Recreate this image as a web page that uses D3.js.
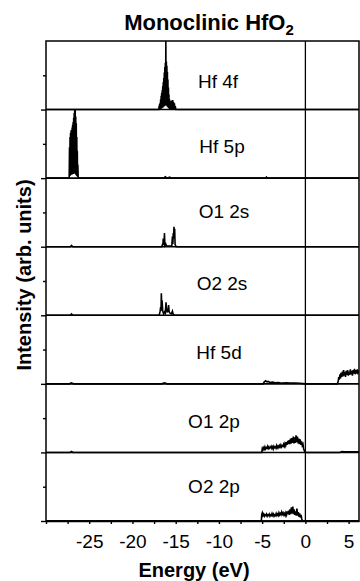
<!DOCTYPE html>
<html><head><meta charset="utf-8">
<script src="https://cdn.jsdelivr.net/npm/d3@7/dist/d3.min.js"></script>
<style>body{margin:0;background:#fff}svg{display:block;font-family:"Liberation Sans",Arial,Helvetica,sans-serif}</style>
</head><body><svg id="chart" width="360" height="581"></svg>
<script>
// ---- data ----
const panelLabels = ["Hf 4f", "Hf 5p", "O1 2s", "O2 2s", "Hf 5d", "O1 2p", "O2 2p"];
const xTicks = [-30, -27.5, -25, -22.5, -20, -17.5, -15, -12.5, -10, -7.5, -5, -2.5, 0, 2.5, 5];
const xTickLabels = [-25, -20, -15, -10, -5, 0, 5];
const xDomain = [-30, 6.2];

const hf4f = [[-30,0],[-16.95,0],[-16.92,0.05],[-16.89,0],[-16.86,0.08],[-16.83,0],[-16.8,0.1],[-16.77,0.01],[-16.74,0.15],[-16.71,0.01],[-16.68,0.2],[-16.65,0.02],[-16.62,0.24],[-16.59,0.02],[-16.56,0.28],[-16.53,0.03],[-16.5,0.34],[-16.47,0.03],[-16.44,0.4],[-16.41,0.04],[-16.38,0.46],[-16.35,0.05],[-16.32,0.54],[-16.29,0.05],[-16.26,0.62],[-16.23,0.06],[-16.2,0.68],[-16.17,0.08],[-16.14,1.0],[-16.11,0.08],[-16.08,0.7],[-16.05,0.06],[-16.02,0.64],[-15.99,0.05],[-15.96,0.55],[-15.93,0.04],[-15.9,0.44],[-15.87,0.03],[-15.84,0.32],[-15.81,0.02],[-15.78,0.22],[-15.75,0.02],[-15.72,0.15],[-15.69,0.01],[-15.66,0.12],[-15.62,0.01],[-15.58,0.1],[-15.54,0.01],[-15.5,0.13],[-15.46,0.01],[-15.42,0.1],[-15.38,0.01],[-15.34,0.14],[-15.3,0.01],[-15.25,0.11],[-15.2,0.01],[-15.15,0.09],[-15.1,0.01],[-15.05,0.05],[-14.98,0],[6.2,0]];
const hf5p = [[-30,0],[-27.32,0],[-27.28,0.45],[-27.25,0.03],[-27.22,0.6],[-27.19,0.04],[-27.16,0.66],[-27.13,0.05],[-27.1,0.7],[-27.07,0.05],[-27.04,0.68],[-27.01,0.05],[-26.98,0.74],[-26.95,0.06],[-26.92,0.78],[-26.89,0.06],[-26.86,0.82],[-26.83,0.06],[-26.8,0.88],[-26.77,0.07],[-26.74,0.95],[-26.71,0.07],[-26.68,1.0],[-26.65,0.07],[-26.62,1.0],[-26.59,0.06],[-26.56,0.9],[-26.53,0.05],[-26.5,0.8],[-26.47,0.04],[-26.44,0.6],[-26.41,0.03],[-26.38,0.4],[-26.35,0.02],[-26.32,0.2],[-26.28,0.02],[-26.22,0],[-16.4,0],[-16.2,0.02],[-16.0,0],[-15.7,0.015],[-15.5,0],[-4.6,0],[-4.5,0.015],[-4.4,0],[6.2,0]];
const o1_2s = [[-30,0],[-27.2,0],[-27.05,0.02],[-26.9,0],[-16.6,0],[-16.52,0.04],[-16.48,0.02],[-16.44,0.12],[-16.4,0.03],[-16.34,0.06],[-16.3,0.2],[-16.25,0.02],[-16.15,0.04],[-16.05,0.01],[-15.45,0.01],[-15.38,0.15],[-15.33,0.04],[-15.28,0.2],[-15.24,0.12],[-15.2,0.29],[-15.16,0.18],[-15.12,0.26],[-15.07,0.03],[-14.95,0],[6.2,0]];
const o2_2s = [[-30,0],[-27.2,0],[-27.05,0.02],[-26.9,0],[-16.9,0],[-16.8,0.06],[-16.74,0.12],[-16.7,0.06],[-16.66,0.32],[-16.62,0.15],[-16.58,0.22],[-16.5,0.06],[-16.4,0.02],[-16.3,0.05],[-16.2,0.03],[-16.12,0.19],[-16.06,0.08],[-15.98,0.05],[-15.9,0.06],[-15.82,0.15],[-15.76,0.05],[-15.65,0.03],[-15.5,0.02],[-15.38,0.06],[-15.28,0.01],[-15.1,0],[6.2,0]];
const hf5d = [[-30,0],[-27.3,0],[-27.1,0.015],[-26.8,0],[-16.6,0],[-16.3,0.015],[-16.0,0],[-4.9,0],[-4.75,0.03],[-4.6,0.045],[-4.45,0.03],[-4.3,0.035],[-4.1,0.02],[-3.8,0.025],[-3.5,0.015],[-3.1,0.02],[-2.7,0.01],[-2.2,0.015],[-1.8,0.01],[-1.2,0.012],[-0.6,0.008],[0,0],[3.7,0],[3.8,0.04],[3.86,0.1],[3.92,0.06],[4.0,0.14],[4.06,0.08],[4.12,0.16],[4.2,0.1],[4.28,0.18],[4.34,0.11],[4.42,0.2],[4.5,0.12],[4.58,0.17],[4.64,0.1],[4.72,0.19],[4.8,0.13],[4.88,0.2],[4.96,0.12],[5.04,0.18],[5.12,0.13],[5.2,0.21],[5.28,0.14],[5.36,0.19],[5.44,0.12],[5.52,0.2],[5.6,0.15],[5.68,0.22],[5.76,0.14],[5.84,0.2],[5.92,0.15],[6.0,0.21],[6.08,0.16],[6.2,0.19]];
const o1_2p = [[-30,0],[-27.2,0],[-27.05,0.015],[-26.9,0],[-5.05,0],[-4.98,0.06],[-4.9,0.04],[-4.82,0.07],[-4.75,0.05],[-4.68,0.08],[-4.6,0.05],[-4.52,0.07],[-4.44,0.06],[-4.36,0.09],[-4.28,0.06],[-4.2,0.08],[-4.12,0.06],[-4.04,0.07],[-3.96,0.09],[-3.88,0.06],[-3.8,0.08],[-3.72,0.05],[-3.64,0.09],[-3.56,0.07],[-3.48,0.08],[-3.4,0.06],[-3.32,0.1],[-3.24,0.07],[-3.16,0.09],[-3.08,0.07],[-3.0,0.1],[-2.92,0.08],[-2.84,0.11],[-2.76,0.08],[-2.68,0.1],[-2.6,0.09],[-2.52,0.12],[-2.44,0.09],[-2.36,0.13],[-2.28,0.1],[-2.2,0.15],[-2.12,0.11],[-2.04,0.17],[-1.96,0.12],[-1.88,0.18],[-1.8,0.12],[-1.72,0.2],[-1.64,0.13],[-1.56,0.21],[-1.48,0.14],[-1.4,0.23],[-1.32,0.13],[-1.24,0.22],[-1.16,0.14],[-1.08,0.25],[-1.0,0.15],[-0.92,0.23],[-0.84,0.13],[-0.76,0.2],[-0.68,0.12],[-0.6,0.19],[-0.52,0.11],[-0.44,0.16],[-0.36,0.1],[-0.28,0.12],[-0.2,0.05],[-0.1,0.02],[0,0],[4.0,0],[4.2,0.012],[4.5,0.008],[5.0,0.01],[5.6,0.008],[6.2,0.01]];
const o2_2p = [[-30,0],[-5.1,0],[-5.04,0.1],[-4.98,0.12],[-4.9,0.08],[-4.82,0.1],[-4.74,0.07],[-4.66,0.09],[-4.58,0.08],[-4.5,0.1],[-4.42,0.07],[-4.34,0.09],[-4.26,0.08],[-4.18,0.1],[-4.1,0.07],[-4.02,0.09],[-3.94,0.08],[-3.86,0.11],[-3.78,0.08],[-3.7,0.1],[-3.62,0.07],[-3.54,0.09],[-3.46,0.08],[-3.38,0.11],[-3.3,0.08],[-3.22,0.1],[-3.14,0.08],[-3.06,0.12],[-2.98,0.09],[-2.9,0.11],[-2.82,0.09],[-2.74,0.13],[-2.66,0.1],[-2.58,0.12],[-2.5,0.09],[-2.42,0.11],[-2.34,0.08],[-2.26,0.12],[-2.18,0.09],[-2.1,0.14],[-2.02,0.1],[-1.94,0.15],[-1.86,0.09],[-1.78,0.17],[-1.7,0.1],[-1.62,0.2],[-1.54,0.11],[-1.46,0.21],[-1.38,0.1],[-1.3,0.17],[-1.22,0.09],[-1.14,0.14],[-1.06,0.08],[-0.98,0.18],[-0.9,0.08],[-0.82,0.13],[-0.74,0.06],[-0.66,0.11],[-0.58,0.05],[-0.5,0.09],[-0.42,0.03],[-0.34,0],[6.2,0]];
const series = [hf4f, hf5p, o1_2s, o2_2s, hf5d, o1_2p, o2_2p];

// ---- layout ----
const L = 46, R = 359, T = 41, B = 521;
const nP = panelLabels.length;
const pH = (B - T) / nP;
const svg = d3.select("#chart");
const x = d3.scaleLinear().domain(xDomain).range([L, R]);

svg.append("defs").append("clipPath").attr("id", "plotclip")
  .append("rect").attr("x", L).attr("y", T).attr("width", R - L).attr("height", B - T);

series.forEach((data, i) => {
  const top = T + i * pH, bot = top + pH;
  const y = d3.scaleLinear().domain([0, 1]).range([bot, top]);
  const line = d3.line().x(d => x(d[0])).y(d => y(d[1]));
  svg.append("path").datum(data).attr("d", line)
    .attr("fill", "none").attr("stroke", "#000").attr("stroke-width", 1.6)
    .attr("stroke-linejoin", "miter").attr("clip-path", "url(#plotclip)");
  const yAxis = d3.axisLeft(y).tickValues([0, 0.5]).tickFormat("").tickSizeOuter(0);
  const g = svg.append("g").attr("transform", `translate(${L},0)`).call(yAxis);
  g.select(".domain").remove();
  g.selectAll(".tick line").attr("stroke", "#000").attr("stroke-width", 1.4)
    .attr("x2", d => d === 0 ? -5 : -3);
  svg.append("line").attr("x1", L).attr("x2", R).attr("y1", bot).attr("y2", bot)
    .attr("stroke", "#000").attr("stroke-width", 1.6);
  const lx = [218, 222, 224, 222, 219, 214, 214][i];
  const off = [22, 25, 29, 25, 25, 24, 28][i];
  svg.append("text").attr("x", lx).attr("y", bot - off).attr("text-anchor", "middle")
    .attr("font-size", 19).attr("fill", "#000").text(panelLabels[i]);
});

svg.append("rect").attr("x", L).attr("y", T).attr("width", R - L).attr("height", B - T)
  .attr("fill", "none").attr("stroke", "#000").attr("stroke-width", 1.5);
svg.append("line").attr("x1", x(0)).attr("x2", x(0)).attr("y1", T).attr("y2", B)
  .attr("stroke", "#000").attr("stroke-width", 1.3);

const xAxis = d3.axisBottom(x).tickValues(xTicks).tickSize(3).tickSizeOuter(0)
  .tickFormat(d => xTickLabels.includes(d) ? String(d) : "");
const gx = svg.append("g").attr("transform", `translate(0,${B})`).call(xAxis);
gx.select(".domain").attr("stroke", "#000").attr("stroke-width", 1.6);
gx.selectAll(".tick line").attr("stroke", "#000").attr("stroke-width", 1.4);
gx.selectAll(".tick text").attr("font-size", 19).attr("fill", "#000").attr("dy", 0)
  .attr("y", 27).attr("font-family", "'Liberation Sans',Arial,sans-serif");

svg.append("text").attr("x", 194).attr("y", 577).attr("text-anchor", "middle")
  .attr("font-size", 20).attr("font-weight", "bold").text("Energy (eV)");
svg.append("text").attr("transform", `translate(31,275) rotate(-90)`)
  .attr("text-anchor", "middle").attr("font-size", 20).attr("font-weight", "bold")
  .text("Intensity (arb. units)");
const title = svg.append("text").attr("x", 209).attr("y", 30).attr("text-anchor", "middle")
  .attr("font-size", 22).attr("font-weight", "bold");
title.append("tspan").text("Monoclinic HfO");
title.append("tspan").attr("font-size", 15).attr("dy", 5).text("2");
</script></body></html>
